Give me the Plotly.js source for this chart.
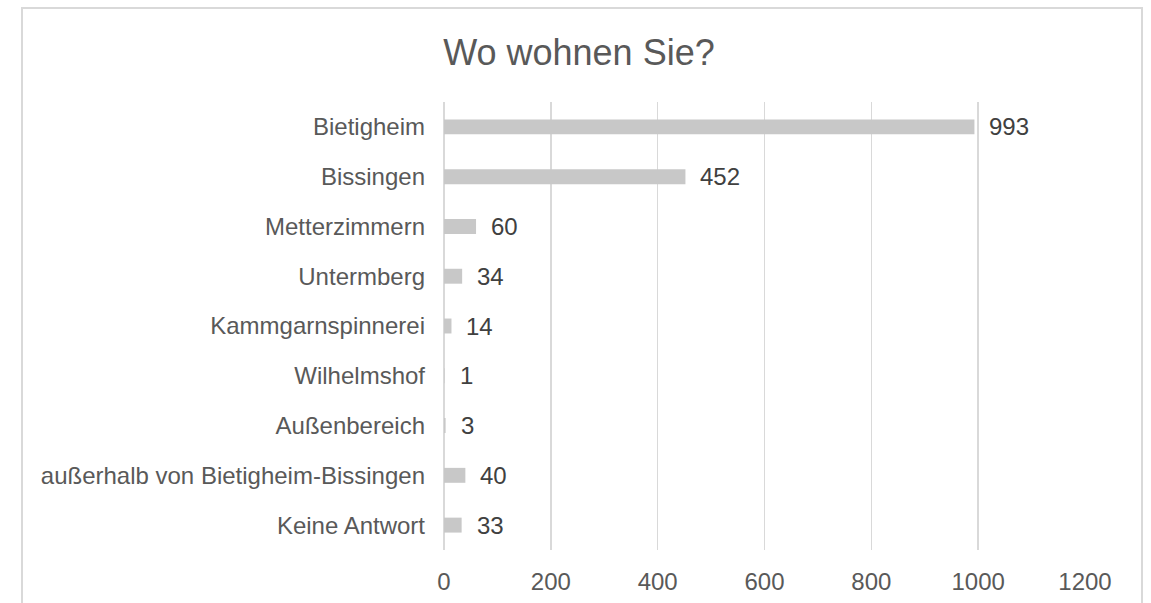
<!DOCTYPE html>
<html>
<head>
<meta charset="utf-8">
<script src="https://cdn.plot.ly/plotly-3.0.1.min.js"></script>
<style>
  html, body { margin: 0; padding: 0; background: #ffffff; overflow: hidden; }
  #frame { position: absolute; left: 21px; top: 7px; width: 1118px; height: 700px; border: 2px solid #d9d9d9; box-sizing: content-box; }
  #chart { position: absolute; left: 0; top: 0; width: 1151px; height: 603px; }
</style>
</head>
<body>
<div id="frame"></div>
<div id="chart"></div>
<script>
const categories = [
  "Bietigheim",
  "Bissingen",
  "Metterzimmern",
  "Untermberg",
  "Kammgarnspinnerei",
  "Wilhelmshof",
  "Außenbereich",
  "außerhalb von Bietigheim-Bissingen",
  "Keine Antwort"
];
const values = [993, 452, 60, 34, 14, 1, 3, 40, 33];
const tickValues = [0, 200, 400, 600, 800, 1000, 1200];
const titleText = "Wo wohnen Sie?";

const font = "Liberation Sans, Arial, sans-serif";

const trace = {
  type: "bar",
  orientation: "h",
  x: values,
  y: categories,
  marker: { color: "#c8c8c8" },
  hoverinfo: "x+y"
};

const annotations = values.map((v, i) => ({
  x: v,
  y: categories[i],
  xref: "x",
  yref: "y",
  text: String(v),
  showarrow: false,
  xanchor: "left",
  yanchor: "middle",
  xshift: 13,
  font: { family: font, size: 24, color: "#404040" }
}));

const layout = {
  width: 1151,
  height: 603,
  paper_bgcolor: "rgba(0,0,0,0)",
  plot_bgcolor: "rgba(0,0,0,0)",
  margin: { l: 444, r: 66, t: 102, b: 53, pad: 0 },
  bargap: 0.7,
  showlegend: false,
  title: {
    text: titleText,
    x: 0.503,
    xanchor: "center",
    y: 0.913,
    yanchor: "middle",
    font: { family: font, size: 36, color: "#595959" }
  },
  xaxis: {
    range: [0, 1200],
    tickvals: tickValues,
    ticktext: tickValues.map(String),
    showgrid: true,
    gridcolor: "#d9d9d9",
    gridwidth: 1.5,
    zeroline: true,
    zerolinecolor: "#d9d9d9",
    zerolinewidth: 1.5,
    showline: false,
    ticks: "",
    ticklabelstandoff: 15,
    tickfont: { family: font, size: 24, color: "#595959" },
    fixedrange: true
  },
  yaxis: {
    type: "category",
    categoryorder: "array",
    categoryarray: categories,
    autorange: "reversed",
    showgrid: false,
    zeroline: false,
    showline: false,
    ticks: "",
    ticklabelstandoff: 18,
    tickfont: { family: font, size: 24, color: "#595959" },
    fixedrange: true
  },
  annotations: annotations
};

Plotly.newPlot("chart", [trace], layout, { displayModeBar: false, staticPlot: true });
</script>
</body>
</html>
